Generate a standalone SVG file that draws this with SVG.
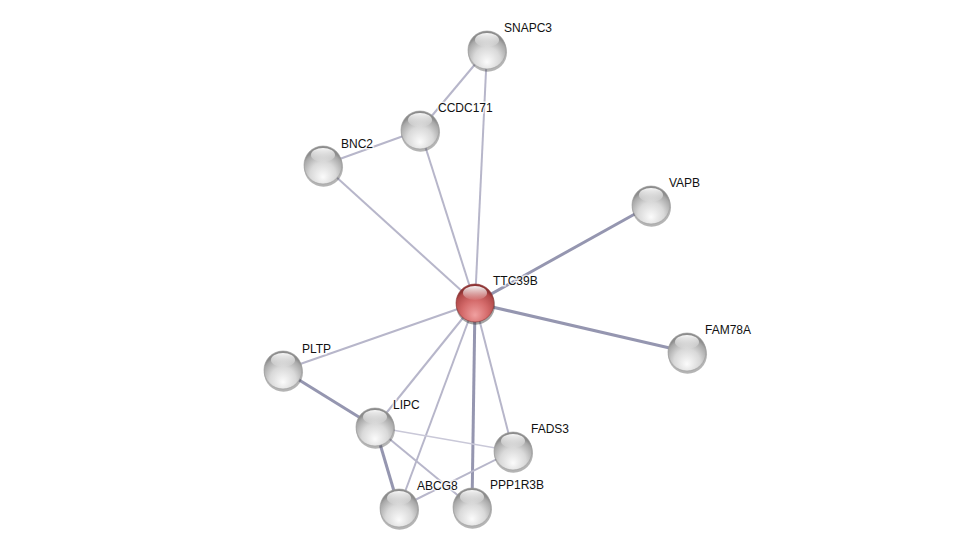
<svg xmlns="http://www.w3.org/2000/svg" width="975" height="554" viewBox="0 0 975 554">
<defs>
<radialGradient id="gBody" cx="0.5" cy="0.72" r="0.62" fx="0.5" fy="0.82">
<stop offset="0" stop-color="#fbfbfb"/>
<stop offset="0.55" stop-color="#d9d9d9"/>
<stop offset="0.9" stop-color="#a8a8a8"/>
<stop offset="1" stop-color="#8c8c8c"/>
</radialGradient>
<radialGradient id="rBody" cx="0.5" cy="0.72" r="0.62" fx="0.5" fy="0.82">
<stop offset="0" stop-color="#f0a0a0"/>
<stop offset="0.55" stop-color="#d46a6a"/>
<stop offset="0.9" stop-color="#b24a4a"/>
<stop offset="1" stop-color="#8e3434"/>
</radialGradient>
<linearGradient id="hl" x1="0" y1="0" x2="0" y2="1">
<stop offset="0" stop-color="#ffffff" stop-opacity="0.95"/>
<stop offset="1" stop-color="#ffffff" stop-opacity="0.05"/>
</linearGradient>
<g id="sphere">
<circle cx="0.5" cy="2.2" r="19.5" fill="#444" opacity="0.4"/>
<circle r="19" fill="url(#gBody)" stroke="#9a9a9a" stroke-width="0.6"/>
<ellipse cx="0" cy="-10" rx="12" ry="7" fill="url(#hl)"/>
</g>
<g id="rsphere">
<circle cx="0.5" cy="2.2" r="19.5" fill="#333" opacity="0.45"/>
<circle r="19" fill="url(#rBody)" stroke="#8e3434" stroke-width="0.6"/>
<ellipse cx="0" cy="-10" rx="12" ry="7" fill="url(#hl)"/>
</g>
</defs>
<style>
.e{stroke:#b7b6ca;stroke-width:2;fill:none}
.t{stroke:#9596b0;stroke-width:3;fill:none}
.f{stroke:#c9c8d8;stroke-width:1.5;fill:none}
text{font-family:"Liberation Sans",Arial,sans-serif;font-size:12px;fill:#111;paint-order:stroke;stroke:#fff;stroke-width:3px;stroke-opacity:0.7}
</style>
<rect width="975" height="554" fill="#fff"/>
<g id="edges">
<line class="e" x1="487" y1="50" x2="420" y2="130"/>
<line class="e" x1="487" y1="50" x2="475" y2="303"/>
<line class="e" x1="420" y1="130" x2="323" y2="165"/>
<line class="e" x1="420" y1="130" x2="475" y2="303"/>
<line class="e" x1="323" y1="165" x2="475" y2="303"/>
<line class="t" x1="651" y1="205" x2="475" y2="303"/>
<line class="t" x1="687" y1="352" x2="475" y2="303"/>
<line class="e" x1="283" y1="370" x2="475" y2="303"/>
<line class="t" x1="283" y1="370" x2="375" y2="427"/>
<line class="e" x1="375" y1="427" x2="475" y2="303"/>
<line class="e" x1="399" y1="508" x2="475" y2="303"/>
<line class="t" x1="472" y1="507" x2="475" y2="303"/>
<line class="e" x1="513" y1="451" x2="475" y2="303"/>
<line class="f" x1="375" y1="427" x2="513" y2="451"/>
<line class="t" x1="375" y1="427" x2="399" y2="508"/>
<line class="e" x1="375" y1="427" x2="472" y2="507"/>
<line class="e" x1="399" y1="508" x2="513" y2="451"/>
</g>
<g id="n-SNAPC3"><use href="#sphere" x="487" y="50"/><text x="504" y="32">SNAPC3</text></g>
<g id="n-CCDC171"><use href="#sphere" x="420" y="130"/><text x="438" y="112">CCDC171</text></g>
<g id="n-BNC2"><use href="#sphere" x="323" y="165"/><text x="341" y="148">BNC2</text></g>
<g id="n-VAPB"><use href="#sphere" x="651" y="205"/><text x="669" y="187">VAPB</text></g>
<g id="n-TTC39B"><use href="#rsphere" x="475" y="303"/><text x="493" y="285">TTC39B</text></g>
<g id="n-FAM78A"><use href="#sphere" x="687" y="352"/><text x="705" y="334">FAM78A</text></g>
<g id="n-PLTP"><use href="#sphere" x="283" y="370"/><text x="302" y="353">PLTP</text></g>
<g id="n-LIPC"><use href="#sphere" x="375" y="427"/><text x="393" y="409">LIPC</text></g>
<g id="n-FADS3"><use href="#sphere" x="513" y="451"/><text x="531" y="433">FADS3</text></g>
<g id="n-ABCG8"><use href="#sphere" x="399" y="508"/><text x="417" y="490">ABCG8</text></g>
<g id="n-PPP1R3B"><use href="#sphere" x="472" y="507"/><text x="490" y="489">PPP1R3B</text></g>
</svg>
